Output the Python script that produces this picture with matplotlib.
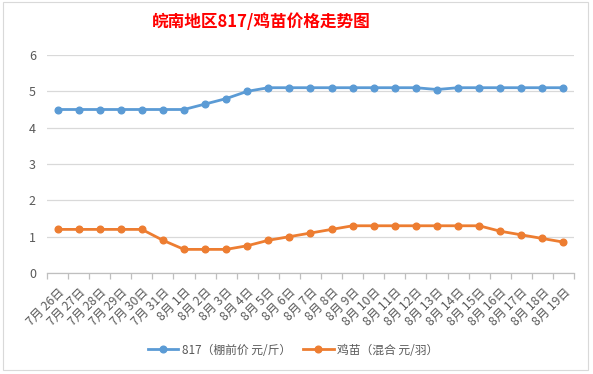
import matplotlib
matplotlib.use("Agg")
import matplotlib.pyplot as plt
from matplotlib.patches import Rectangle
from matplotlib.lines import Line2D

plt.rcParams['font.family'] = ['Noto Sans CJK SC', 'DejaVu Sans']

dates = ["7月 26日", "7月 27日", "7月 28日", "7月 29日", "7月 30日", "7月 31日",
         "8月 1日", "8月 2日", "8月 3日", "8月 4日", "8月 5日", "8月 6日", "8月 7日",
         "8月 8日", "8月 9日", "8月 10日", "8月 11日", "8月 12日", "8月 13日",
         "8月 14日", "8月 15日", "8月 16日", "8月 17日", "8月 18日", "8月 19日"]
price_817 = [4.5, 4.5, 4.5, 4.5, 4.5, 4.5, 4.5, 4.65, 4.8, 5.0, 5.1, 5.1, 5.1,
             5.1, 5.1, 5.1, 5.1, 5.1, 5.05, 5.1, 5.1, 5.1, 5.1, 5.1, 5.1]
price_chick = [1.2, 1.2, 1.2, 1.2, 1.2, 0.9, 0.65, 0.65, 0.65, 0.75, 0.9, 1.0, 1.1,
               1.2, 1.3, 1.3, 1.3, 1.3, 1.3, 1.3, 1.3, 1.15, 1.05, 0.95, 0.85]
label_817 = "817（棚前价 元/斤）"
label_chick = "鸡苗（混合 元/羽）"
title = "皖南地区817/鸡苗价格走势图"
yticks = [0, 1, 2, 3, 4, 5, 6]

W, H = 593, 374
fig = plt.figure(figsize=(W / 100, H / 100), dpi=100)
fig.patch.set_facecolor('white')

# chart border
fig.add_artist(Rectangle((3 / W, 1 - 370 / H), 585 / W, 368 / H, transform=fig.transFigure,
                         fill=False, edgecolor='#D9D9D9', linewidth=0.8))

ax = fig.add_axes([47 / W, 1 - 273 / H, 527 / W, 218 / H])
x = list(range(len(dates)))
blue = '#5B9BD5'
orange = '#ED7D31'
ax.plot(x, price_817, color=blue, linewidth=2.0, marker='o', markersize=4.8, label=label_817)
ax.plot(x, price_chick, color=orange, linewidth=2.0, marker='o', markersize=4.8, label=label_chick)

ax.set_xlim(-0.5, len(dates) - 0.5)
ax.set_ylim(0, 6)
ax.set_yticks(yticks)
ax.set_yticklabels([str(v) for v in yticks])
ax.grid(axis='y', color='#D9D9D9', linewidth=0.9)
ax.set_axisbelow(True)
for s in ['top', 'right', 'left']:
    ax.spines[s].set_visible(False)
ax.spines['bottom'].set_color('#BFBFBF')
ax.spines['bottom'].set_linewidth(0.9)

ax.set_xticks(x)
ax.set_xticklabels(dates, rotation=45, ha='right', va='top', rotation_mode='anchor',
                   fontsize=8.8, color='#595959')
ax.set_xticks([i - 0.5 for i in range(len(dates) + 1)], minor=True)
ax.tick_params(axis='x', which='major', length=0, pad=9)
ax.tick_params(axis='x', which='minor', length=4, color='#BFBFBF', width=0.9)
ax.tick_params(axis='y', length=0, pad=8, labelsize=9, labelcolor='#595959')

fig.text(261 / W, 1 - 22 / H, title, color='#FF0000', fontsize=12, fontweight='bold',
         ha='center', va='center')

handles = [Line2D([0], [0], color=blue, linewidth=2.0, marker='o', markersize=4.8),
           Line2D([0], [0], color=orange, linewidth=2.0, marker='o', markersize=4.8)]
fig.legend(handles, [label_817, label_chick], loc='center', bbox_to_anchor=(293 / W, 1 - 350 / H),
           ncol=2, frameon=False, fontsize=8.5, labelcolor='#595959', handlelength=2.6,
           columnspacing=1.0, handletextpad=0.3)

fig.savefig('out.png', dpi=100, facecolor='white')
